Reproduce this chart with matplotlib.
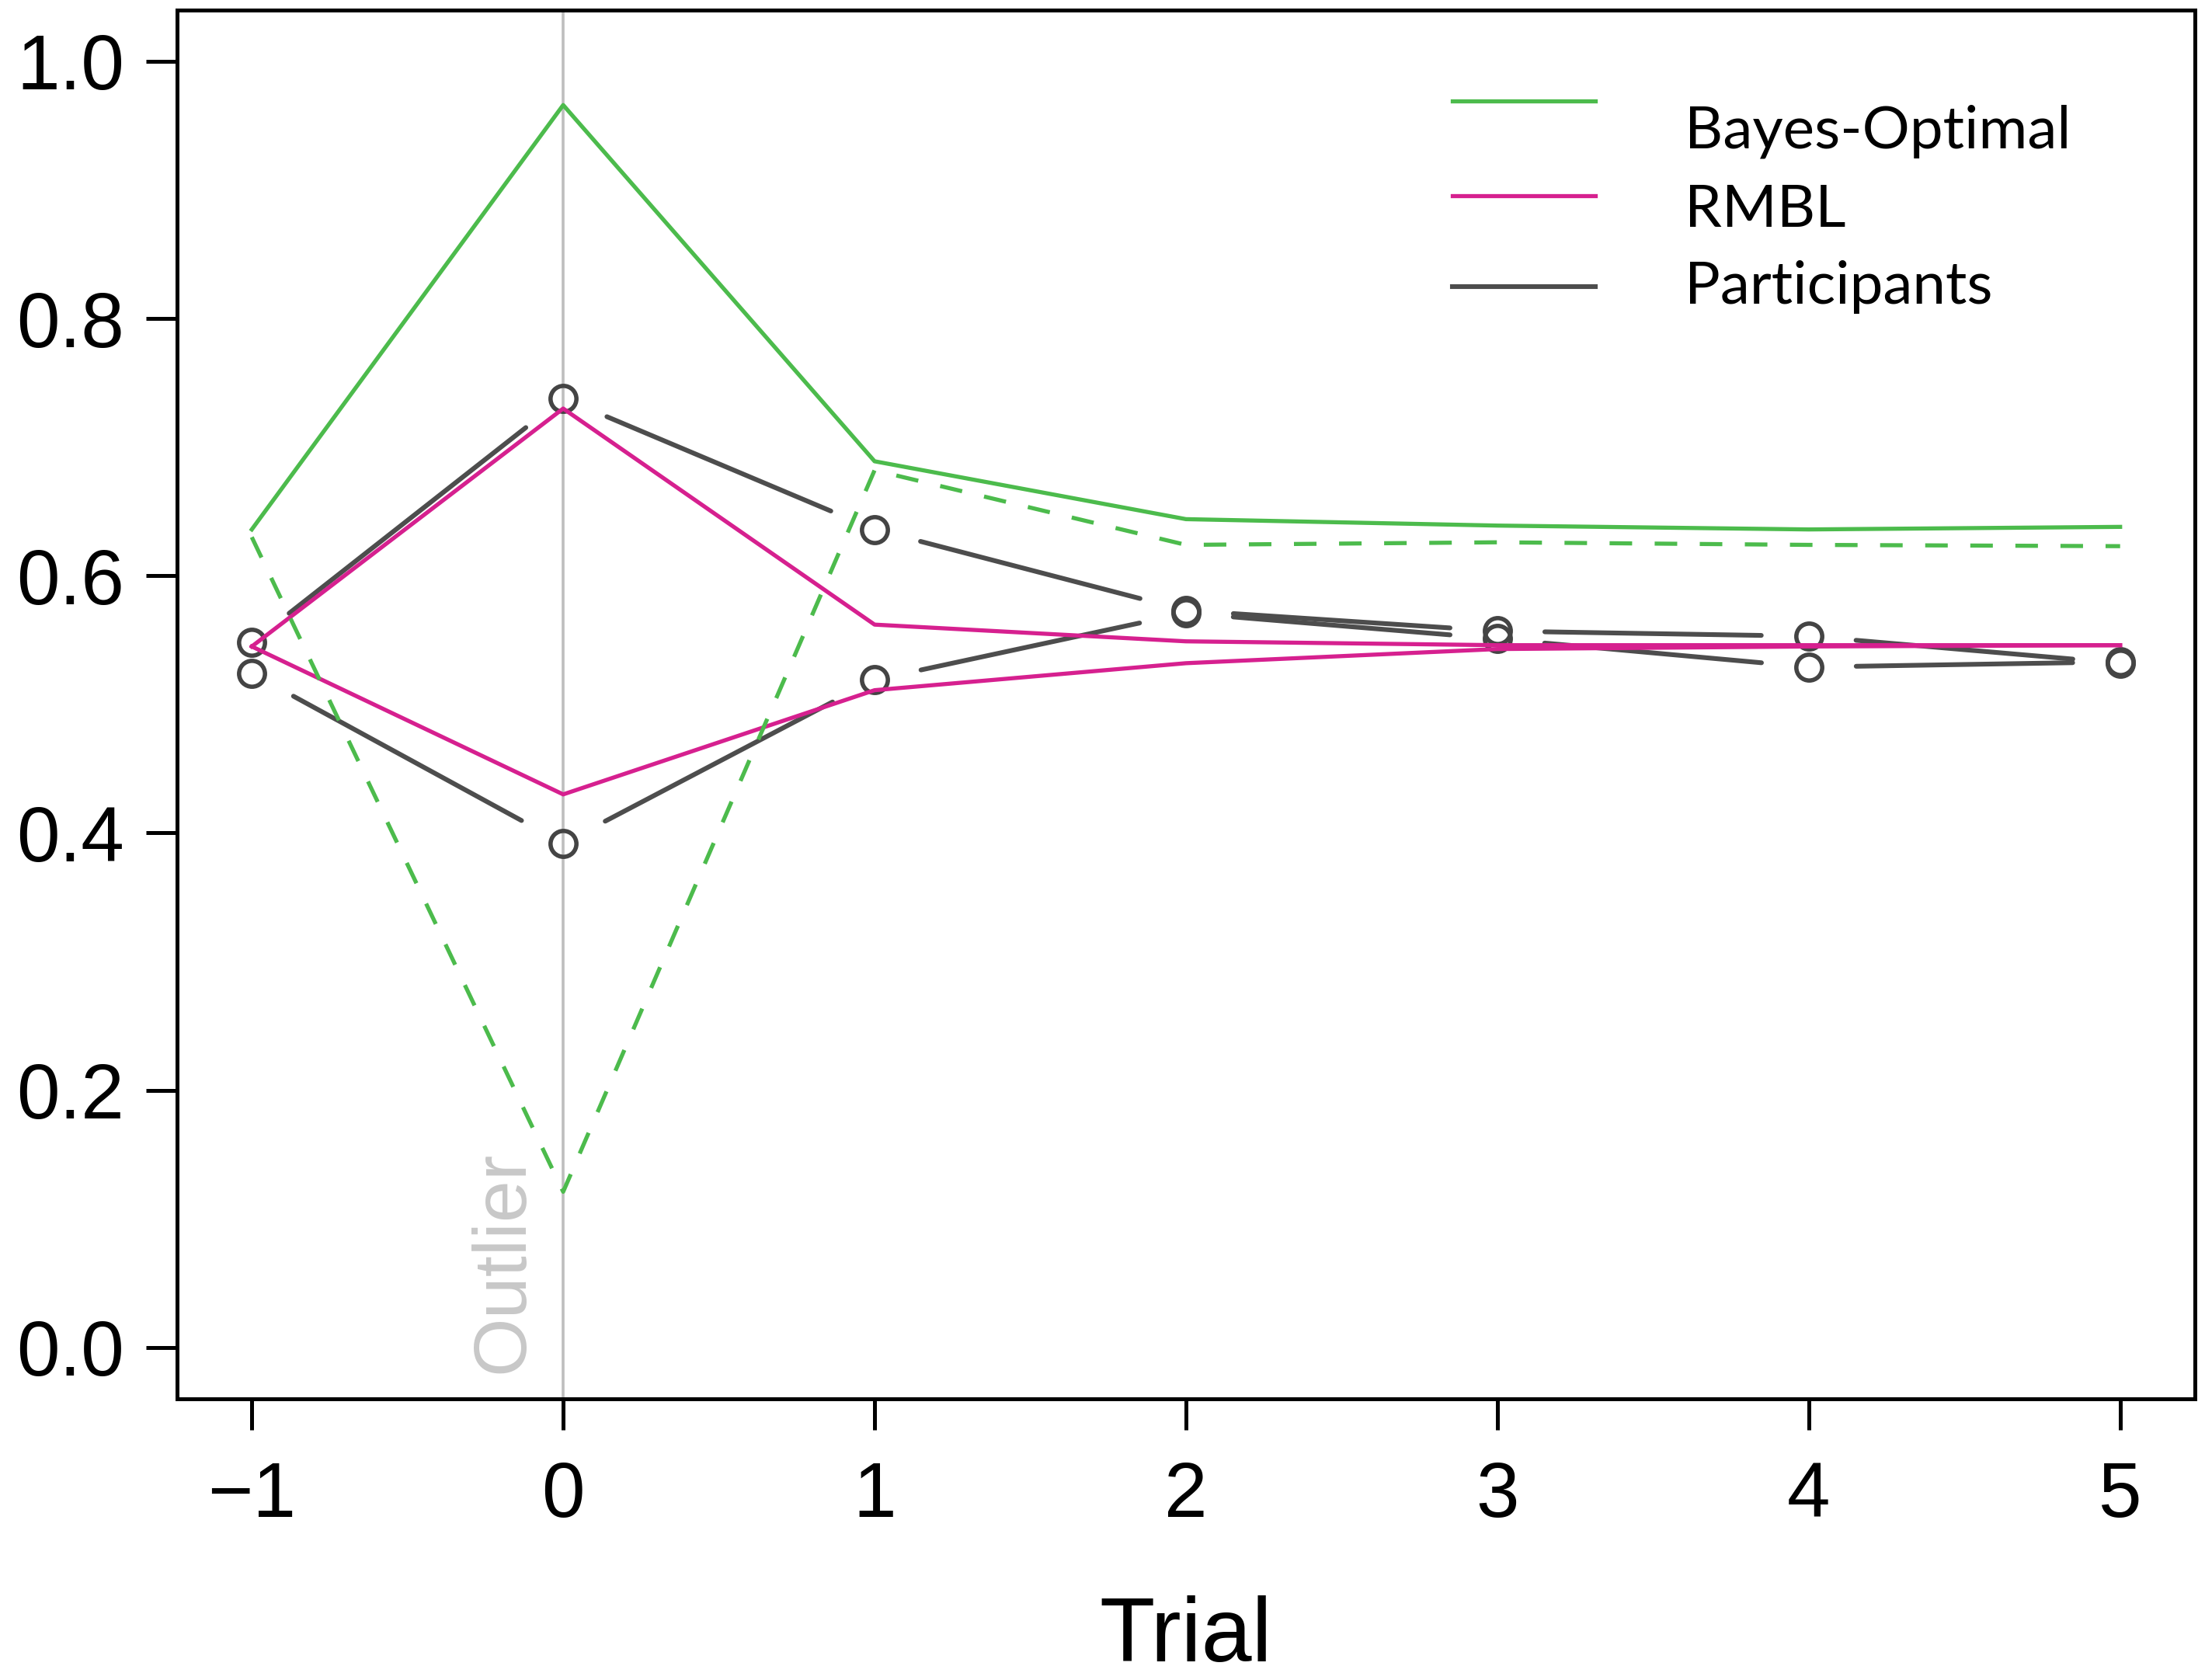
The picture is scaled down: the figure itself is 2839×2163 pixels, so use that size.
import numpy as np
import matplotlib.pyplot as plt

plt.rcParams['font.family'] = ['Liberation Sans', 'DejaVu Sans']

# data
trials = [-1, 0, 1, 2, 3, 4, 5]
bayes_solid = [0.636, 0.966, 0.689, 0.644, 0.639, 0.636, 0.638]
bayes_dashed = [0.630, 0.121, 0.682, 0.624, 0.626, 0.624, 0.623]
rmbl_upper = [0.545, 0.730, 0.562, 0.549, 0.546, 0.546, 0.546]
rmbl_lower = [0.545, 0.430, 0.511, 0.532, 0.543, 0.545, 0.546]
part_upper = [0.548, 0.738, 0.636, 0.573, 0.557, 0.553, 0.532]
part_lower = [0.524, 0.392, 0.519, 0.571, 0.551, 0.529, 0.533]

legend_labels = ["Bayes-Optimal", "RMBL", "Participants"]

green = "#4CBB4C"
magenta = "#D6208F"
grey = "#4D4D4D"

fig = plt.figure(figsize=(14.195, 10.815), dpi=200)
ax = fig.add_axes([0.0803, 0.16736, 0.9151, 0.82677])
ax.set_xlim(-1.24, 5.24)
ax.set_ylim(-0.04, 1.04)

# outlier marker
ax.axvline(0, color="#BEBEBE", lw=1.3, zorder=1)
ax.text(-0.08, -0.02, "Outlier", rotation=90, ha="right", va="bottom",
        fontsize=35, color="#C8C8C8", zorder=1)

# participants: points with gaps around them (R type="b")
for ys in (part_upper, part_lower):
    for i in range(len(trials) - 1):
        ax.annotate("", xy=(trials[i + 1], ys[i + 1]), xytext=(trials[i], ys[i]),
                    arrowprops=dict(arrowstyle="-", color=grey, lw=2.2,
                                    shrinkA=22, shrinkB=22), zorder=2)
    ax.plot(trials, ys, "o", mfc="none", mec="#444444", ms=12, mew=2.0, zorder=3)

ax.plot(trials, rmbl_upper, color=magenta, lw=1.9, zorder=4)
ax.plot(trials, rmbl_lower, color=magenta, lw=1.9, zorder=4)
ax.plot(trials, bayes_solid, color=green, lw=1.9, zorder=5)
ax.plot(trials, bayes_dashed, color=green, lw=1.9, ls=(0, (5.5, 5.5)), zorder=5)

# legend, drawn by hand
leg_colors = [green, magenta, grey]
leg_widths = [1.9, 1.9, 2.2]
line_y = [0.9346, 0.8663, 0.8009]
text_y = [0.9005, 0.8440, 0.7885]
for lab, col, lw, ly, ty in zip(legend_labels, leg_colors, leg_widths, line_y, text_y):
    ax.plot([0.632, 0.703], [ly, ly], color=col, lw=lw, transform=ax.transAxes,
            clip_on=False)
    ax.text(0.747, ty, lab, transform=ax.transAxes, va="baseline", ha="left",
            fontsize=27.5, family=["Lato", "DejaVu Sans"])

ax.set_xticks(trials)
ax.set_yticks([0.0, 0.2, 0.4, 0.6, 0.8, 1.0])
ax.set_yticklabels(["0.0", "0.2", "0.4", "0.6", "0.8", "1.0"])
ax.tick_params(direction="out", length=14.5, width=1.8, labelsize=36)
ax.tick_params(axis="y", pad=10)
ax.tick_params(axis="x", pad=14)
for s in ax.spines.values():
    s.set_linewidth(1.8)

fig.text(1527 / 2839, 0.0, "Trial", ha="center", va="bottom", fontsize=42)

fig.savefig("out.png", dpi=200)
